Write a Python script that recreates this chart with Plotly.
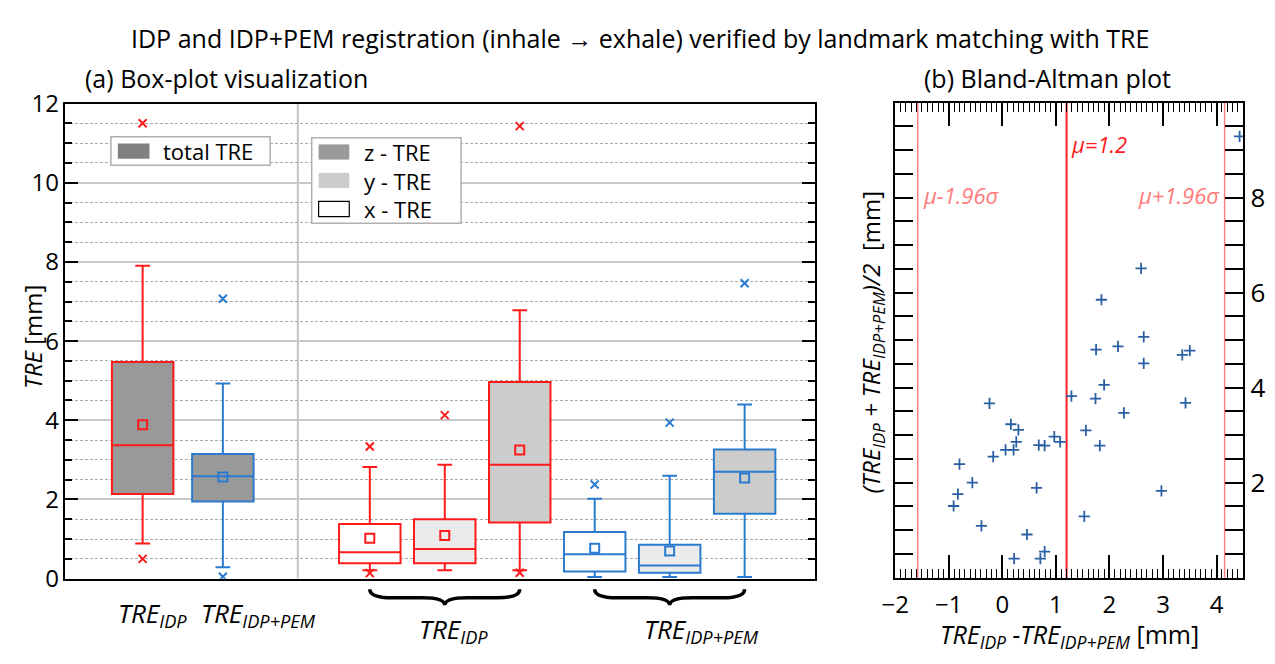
import plotly.graph_objects as go

# ---------------- (a) box statistics, TRE in mm ----------------
box_labels = ["total TRE IDP", "total TRE IDP+PEM",
              "x-TRE IDP", "y-TRE IDP", "z-TRE IDP",
              "x-TRE IDP+PEM", "y-TRE IDP+PEM", "z-TRE IDP+PEM"]
box_method = ["IDP", "IDP+PEM", "IDP", "IDP", "IDP", "IDP+PEM", "IDP+PEM", "IDP+PEM"]
box_component = ["total", "total", "x", "y", "z", "x", "y", "z"]
box_lower = [0.89, 0.29, 0.21, 0.21, 0.21, 0.04, 0.04, 0.04]
box_q1 = [2.14, 1.95, 0.39, 0.39, 1.42, 0.18, 0.15, 1.64]
box_median = [3.37, 2.59, 0.67, 0.75, 2.88, 0.62, 0.33, 2.70]
box_q3 = [5.47, 3.15, 1.38, 1.50, 4.97, 1.18, 0.86, 3.26]
box_upper = [7.90, 4.93, 2.82, 2.88, 6.78, 2.02, 2.60, 4.40]
box_mean = [3.89, 2.57, 1.02, 1.09, 3.25, 0.77, 0.70, 2.54]

# outliers: index of the box they belong to, and value
outlier_box = [0, 0, 1, 1, 2, 2, 3, 4, 4, 5, 6, 7]
outlier_value = [11.5, 0.5, 7.07, 0.05, 3.34, 0.14, 4.13, 11.43, 0.15, 2.38, 3.94, 7.46]

# ---------------- (b) Bland-Altman data, mm ----------------
ba_diff = [1.85, 2.64, 2.16, 1.75, 2.64, 3.36, 3.50, 1.90, 1.29, 1.74,
           3.42, -0.24, 2.27, 0.16, 0.30, 1.56, 0.97, 1.08, 0.26, 0.68,
           0.79, 1.82, 0.06, 0.21, -0.17, -0.80, -0.56, 0.64, 2.97, -0.83,
           -0.91, 1.53, -0.39, 0.46, 0.79, 0.22, 0.71, 2.59, 4.43]
ba_avg = [5.85, 5.07, 4.87, 4.80, 4.51, 4.69, 4.78, 4.06, 3.82, 3.77,
          3.68, 3.67, 3.47, 3.23, 3.11, 3.10, 2.97, 2.86, 2.86, 2.79,
          2.78, 2.78, 2.69, 2.69, 2.55, 2.39, 2.00, 1.89, 1.83, 1.76,
          1.51, 1.29, 1.09, 0.91, 0.55, 0.40, 0.40, 6.51, 9.29]
mean_diff = 1.2
loa_lower = -1.58
loa_upper = 4.15

# ---------------- styling ----------------
W, H = 1275, 664
FONT = "Open Sans"
RED = "#ff1a1a"
BLUE = "#2a7bd0"
DOT_BLUE = "#2a5fa3"
method_color = {"IDP": RED, "IDP+PEM": BLUE}
component_fill = {"total": "#999999", "x": "#ffffff", "y": "#ebebeb", "z": "#cccccc"}
slot = [0.97, 2.04, 4, 5, 6, 7, 8, 9]     # x slot of each box
separator_x = 3.04


def px(x):
    return x / W


def py(y):
    return 1 - y / H


fig = go.Figure()

for i in range(len(box_labels)):
    col = method_color[box_method[i]]
    fig.add_trace(go.Box(
        x=[slot[i]], q1=[box_q1[i]], median=[box_median[i]], q3=[box_q3[i]],
        lowerfence=[box_lower[i]], upperfence=[box_upper[i]],
        orientation="v", width=0.82, whiskerwidth=0.24,
        fillcolor=component_fill[box_component[i]],
        line=dict(color=col, width=2), boxpoints=False,
        name=box_labels[i], showlegend=False, hoverinfo="skip",
        xaxis="x", yaxis="y"))

fig.add_trace(go.Scatter(
    x=slot, y=box_mean, mode="markers", showlegend=False, hoverinfo="skip",
    marker=dict(symbol="square-open", size=9,
                color=[method_color[m] for m in box_method],
                line=dict(width=2)),
    xaxis="x", yaxis="y"))

fig.add_trace(go.Scatter(
    x=[slot[b] for b in outlier_box], y=outlier_value, mode="markers",
    showlegend=False, hoverinfo="skip",
    marker=dict(symbol="x-thin", size=8,
                line=dict(width=2, color=[method_color[box_method[b]] for b in outlier_box])),
    xaxis="x", yaxis="y"))

fig.add_trace(go.Scatter(
    x=ba_diff, y=ba_avg, mode="markers", showlegend=False, hoverinfo="skip",
    marker=dict(symbol="cross-thin", size=8, line=dict(width=1.8, color=DOT_BLUE)),
    xaxis="x2", yaxis="y2"))

shapes = []
# separator between total TRE and per-component boxes
shapes.append(dict(type="line", xref="x", yref="y domain", x0=separator_x, x1=separator_x,
                   y0=0, y1=1, line=dict(color="#c4c4c4", width=2), layer="below"))

# Bland-Altman reference lines
for v, c, w in [(mean_diff, "#ff2020", 2), (loa_lower, "#ff8080", 1.5), (loa_upper, "#ff8080", 1.5)]:
    shapes.append(dict(type="line", xref="x2", yref="y2 domain", x0=v, x1=v, y0=0, y1=1,
                       line=dict(color=c, width=w), layer="below"))

# curly braces below the component groups
yt, ym, yb = py(601), py(610), py(618)
for a, b in [(slot[2], slot[4]), (slot[5], slot[7])]:
    m = (a + b) / 2
    q = 0.3
    path = (f"M {a},{yt} Q {a},{ym} {a + q},{ym} L {m - q},{ym} Q {m},{ym} {m},{yb} "
            f"Q {m},{ym} {m + q},{ym} L {b - q},{ym} Q {b},{ym} {b},{yt}")
    shapes.append(dict(type="path", xref="x", yref="paper", path=path,
                       line=dict(color="black", width=3.5)))

# legend frames and swatches
shapes.append(dict(type="rect", xref="paper", yref="paper", x0=px(98), x1=px(259), y0=py(125), y1=py(155),
                   fillcolor="white", line=dict(color="#b0b0b0", width=1.5)))
shapes.append(dict(type="rect", xref="paper", yref="paper", x0=px(105), x1=px(137), y0=py(132), y1=py(148),
                   fillcolor="#808080", line=dict(width=0)))
shapes.append(dict(type="rect", xref="paper", yref="paper", x0=px(301), x1=px(452), y0=py(126), y1=py(216),
                   fillcolor="white", line=dict(color="#b0b0b0", width=1.5)))
for (top, fill, lw) in [(133, "#999999", 0), (163, "#cccccc", 0), (193, "#ffffff", 1.2)]:
    shapes.append(dict(type="rect", xref="paper", yref="paper", x0=px(308), x1=px(339),
                       y0=py(top), y1=py(top + 16), fillcolor=fill,
                       line=dict(color="black", width=lw)))

annotations = []


def note(text, x, y, size=22, xanchor="center", color="black", angle=0, xref="paper", yref="paper"):
    annotations.append(dict(text=text, x=x, y=y, xref=xref, yref=yref, showarrow=False,
                            xanchor=xanchor, yanchor="middle", textangle=angle,
                            font=dict(family=FONT, size=size, color=color)))


note("IDP and IDP+PEM registration (inhale \u2192 exhale) verified by landmark matching with TRE",
     px(633), py(21), size=25)
note("(a) Box-plot visualization", px(215), py(63), size=25)
note("(b) Bland-Altman plot", px(1045), py(63), size=25)
note("<i>TRE</i> [mm]", px(19), py(336), size=24, angle=-90)
note("<i>(TRE<sub>IDP</sub> + TRE<sub>IDP+PEM</sub>)/2</i>  [mm]", px(868), py(341), size=24, angle=-90)
note("<i>TRE<sub>IDP</sub> -TRE<sub>IDP+PEM</sub></i> [mm]", px(1067), py(650), size=25)

note("<i>TRE<sub>IDP</sub></i>", px(140), py(627), size=26)
note("<i>TRE<sub>IDP+PEM</sub></i>", px(247), py(627), size=26)
note("<i>TRE<sub>IDP</sub></i>", px(444), py(644), size=26)
note("<i>TRE<sub>IDP+PEM</sub></i>", px(695), py(644), size=26)

note("total TRE", px(149), py(140), xanchor="left")
note("z - TRE", px(352), py(141), xanchor="left")
note("y - TRE", px(352), py(171), xanchor="left")
note("x - TRE", px(352), py(201), xanchor="left")

note(f"<i>\u03bc={mean_diff:.1f}</i>", mean_diff, 0.912, size=22, xanchor="left",
     color="#ff1a1a", xref="x2", yref="y2 domain")
note("<i>\u03bc-1.96\u03c3</i>", loa_lower, 0.806, size=22, xanchor="left",
     color="#ff7b7b", xref="x2", yref="y2 domain")
note("<i>\u03bc+1.96\u03c3</i>", loa_upper, 0.806, size=22, xanchor="right",
     color="#ff7b7b", xref="x2", yref="y2 domain")
annotations[-3]["xshift"] = 2
annotations[-2]["xshift"] = 3
annotations[-1]["xshift"] = -3

fig.update_layout(
    width=W, height=H, margin=dict(l=0, r=0, t=0, b=0),
    paper_bgcolor="white", plot_bgcolor="white",
    font=dict(family=FONT, color="black"),
    boxmode="overlay", showlegend=False,
    shapes=shapes, annotations=annotations,
    xaxis=dict(domain=[px(52), px(810)], range=[-0.06, 9.94], anchor="y",
               showticklabels=False, ticks="", showgrid=False, zeroline=False,
               showline=True, linecolor="black", linewidth=2, mirror=True),
    yaxis=dict(domain=[py(590), py(90)], range=[0, 12], anchor="x",
               tickvals=[0, 2, 4, 6, 8, 10, 12], ticks="inside", ticklen=13, tickwidth=1.5,
               tickcolor="black", tickfont=dict(size=24, family=FONT),
               showline=True, linecolor="black", linewidth=1.5, mirror="ticks",
               showgrid=True, gridcolor="#c8c8c8", gridwidth=1.5, zeroline=False,
               minor=dict(dtick=0.5, ticks="inside", ticklen=7, tickwidth=1.5, tickcolor="black",
                          showgrid=True, gridcolor="#a9a9a9", gridwidth=1, griddash="3px,2px")),
    xaxis2=dict(domain=[px(891), px(1243)], range=[-2, 4.5], anchor="y2",
                tickvals=[-2, -1, 0, 1, 2, 3, 4], ticks="inside", ticklen=23, tickwidth=1.5,
                tickcolor="black", tickfont=dict(size=24, family=FONT), ticklabelstandoff=4,
                showline=True, linecolor="black", linewidth=2, mirror="ticks",
                showgrid=False, zeroline=False,
                minor=dict(dtick=0.1, ticks="inside", ticklen=9, tickwidth=1.2, tickcolor="black")),
    yaxis2=dict(domain=[py(589), py(89)], range=[0, 10], anchor="x2", side="right",
                tickvals=[2, 4, 6, 8], ticks="inside", ticklen=18, tickwidth=1.5,
                tickcolor="black", tickfont=dict(size=26, family=FONT),
                showline=True, linecolor="black", linewidth=2, mirror="ticks",
                showgrid=False, zeroline=False,
                minor=dict(dtick=0.5, ticks="inside", ticklen=18, tickwidth=1.5, tickcolor="black")),
)

fig.write_html("out.html")
